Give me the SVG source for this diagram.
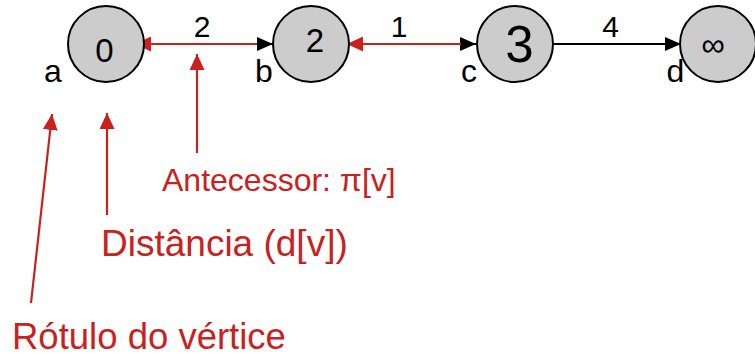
<svg xmlns="http://www.w3.org/2000/svg" width="755" height="357" viewBox="0 0 755 357">
<style>
.node circle{fill:#cccccc;stroke:#000;stroke-width:2}
.t{font-family:"Liberation Sans",Arial,sans-serif;fill:#000}
.r{font-family:"Liberation Sans",Arial,sans-serif;fill:#c9211e}
.edge{stroke:#000;stroke-width:2;fill:none}
.red{stroke:#c9211e;stroke-width:2.2;fill:none}
</style>
<defs>
<marker id="ab" markerUnits="userSpaceOnUse" markerWidth="16" markerHeight="14" refX="16" refY="7" orient="auto"><path d="M0,0 L16,7 L0,14 z" fill="#000"/></marker>
<marker id="ar" markerUnits="userSpaceOnUse" markerWidth="16" markerHeight="15" refX="16" refY="7.5" orient="auto"><path d="M0,0 L16,7.5 L0,15 z" fill="#c9211e"/></marker>
</defs>
<g id="connectors">
<path class="edge" d="M144,44 L273,44" marker-end="url(#ab)"/>
<path class="edge" d="M349,44 L476,44" marker-end="url(#ab)"/>
<path class="edge" d="M553,44 L681,44" marker-end="url(#ab)"/>
<path class="red" d="M257,44 L135,44" marker-end="url(#ar)"/>
<path class="red" d="M461,44 L347,44" marker-end="url(#ar)"/>
<text class="t" x="202" y="36.5" font-size="30" text-anchor="middle">2</text>
<text class="t" x="399" y="36.5" font-size="30" text-anchor="middle">1</text>
<text class="t" x="610.5" y="36.5" font-size="30" text-anchor="middle">4</text>
</g>
<g id="node-a" class="node">
<circle cx="106" cy="44" r="38"/>
<text class="t" x="104.5" y="62" font-size="33" text-anchor="middle">0</text>
<text class="t" x="44" y="82" font-size="32">a</text>
</g>
<g id="node-b" class="node">
<circle cx="311" cy="44" r="38"/>
<text class="t" x="315" y="52" font-size="33" text-anchor="middle">2</text>
<text class="t" x="255" y="82" font-size="32">b</text>
</g>
<g id="node-c" class="node">
<circle cx="515" cy="44" r="38"/>
<text class="t" x="519.5" y="62" font-size="51" text-anchor="middle">3</text>
<text class="t" x="461" y="82" font-size="32">c</text>
</g>
<g id="node-d" class="node">
<circle cx="718" cy="44" r="38"/>
<text class="t" x="713" y="56" font-size="33" text-anchor="middle">∞</text>
<text class="t" x="666.5" y="82" font-size="32">d</text>
</g>
<g id="annotations">
<path class="red" d="M197,153 L197,54" marker-end="url(#ar)"/>
<path class="red" d="M107,215 L107,113" marker-end="url(#ar)"/>
<path class="red" d="M31,303 L52,114" marker-end="url(#ar)"/>
<text class="r" x="162" y="191" font-size="32">Antecessor: π[v]</text>
<text class="r" x="101" y="256" font-size="37">Distância (d[v])</text>
<text class="r" x="12" y="349" font-size="36.5">Rótulo do vértice</text>
</g>
</svg>
